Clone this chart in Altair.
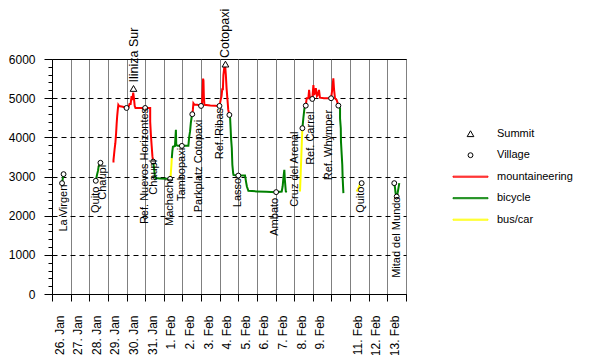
import json
import altair as alt
import pandas as pd

# ---------------- data ----------------
tick_labels = ["26. Jan", "27. Jan", "28. Jan", "29. Jan", "30. Jan", "31. Jan",
               "1. Feb", "2. Feb", "3. Feb", "4. Feb", "5. Feb", "6. Feb", "7. Feb",
               "8. Feb", "9. Feb", "", "11. Feb", "12. Feb", "13. Feb", ""]

kinds = ["Summit", "Village", "mountaineering", "bicycle", "bus/car"]
kind_colors = ["black", "black", "#ff0000", "#008000", "#ffff00"]

# track segments (day since 26 Jan 00:00, elevation m)
seg_modes = ["bicycle", "bicycle", "mountaineering", "bicycle", "bus/car", "bicycle",
             "mountaineering", "bicycle", "bus/car", "bicycle", "mountaineering",
             "bicycle", "bus/car", "bicycle"]
seg_days = [
    [0.54, 0.58, 0.62],
    [2.35, 2.38, 2.42, 2.47, 2.50, 2.55, 2.60],
    [3.30, 3.30, 3.33, 3.36, 3.40, 3.44, 3.47, 3.50, 3.53, 3.56, 3.60, 3.80, 4.00, 4.10,
     4.16, 4.22, 4.27, 4.31, 4.36, 4.40, 4.44, 4.48, 4.75, 5.00, 5.27, 5.27, 5.31, 5.35,
     5.39, 5.43],
    [5.43, 5.48, 5.52, 5.56, 5.80, 6.10, 6.34],
    [6.36, 6.38, 6.41, 6.43],
    [6.43, 6.46, 6.49, 6.60, 6.62, 6.65, 6.67, 6.75, 6.97, 7.20, 7.32, 7.36, 7.41, 7.45,
     7.49, 7.53],
    [7.53, 7.56, 7.59, 7.65, 7.80, 8.00, 8.05, 8.08, 8.11, 8.13, 8.15, 8.18, 8.50, 8.99,
     9.05, 9.10, 9.14, 9.17, 9.20, 9.25, 9.29, 9.33, 9.37, 9.42, 9.46, 9.52],
    [9.52, 9.56, 9.59, 9.61, 9.65, 9.68, 9.72, 9.74, 9.90, 10.00, 10.36, 10.42, 10.46,
     10.54, 11.00, 11.50, 12.03, 12.33, 12.38, 12.42, 12.47, 12.50, 12.55, 12.60],
    [13.31, 13.35, 13.38, 13.41, 13.44],
    [13.44, 13.49, 13.55, 13.62],
    [13.62, 13.67, 13.76, 13.80, 13.84, 13.97, 14.03, 14.07, 14.12, 14.16, 14.22, 14.28,
     14.33, 14.38, 14.60, 14.98, 15.05, 15.10, 15.14, 15.19, 15.28, 15.37],
    [15.37, 15.46, 15.46, 15.50, 15.51, 15.55, 15.58, 15.60, 15.64],
    [16.35, 16.45, 16.53, 16.62],
    [18.37, 18.41, 18.44, 18.50, 18.55, 18.58, 18.64],
]
seg_elev = [
    [2830, 2950, 3060],
    [2890, 2960, 3050, 3150, 3250, 3300, 3350],
    [3356, 3420, 3560, 3700, 3850, 4100, 4350, 4550, 4700, 4830, 4800, 4780, 4750, 4760,
     4850, 4850, 5050, 4950, 5140, 4990, 4800, 4750, 4750, 4750, 4750, 4400, 4050, 3780,
     3520, 3380],
    [3380, 3200, 3020, 2960, 2950, 2945, 2940],
    [2950, 3100, 3300, 3470],
    [3470, 3650, 3760, 3780, 3950, 4190, 3800, 3785, 3782, 3782, 3782, 4000, 4150, 4360,
     4500, 4590],
    [4590, 4700, 4870, 4830, 4830, 4802, 4830, 5150, 5500, 5450, 5050, 4830, 4810, 4802,
     4950, 5050, 5250, 5200, 5590, 5800, 5850, 5600, 5250, 4950, 4700, 4572],
    [4572, 4490, 4200, 3980, 3720, 3300, 3100, 3040, 3024, 3024, 3024, 2850, 2744, 2634,
     2620, 2610, 2601, 2616, 2750, 2958, 3170, 2900, 2616, 2601],
    [2616, 3100, 3500, 3900, 4233],
    [4233, 4488, 4743, 4809],
    [4809, 4998, 5000, 5210, 5030, 4980, 5337, 5080, 5150, 5253, 5057, 5100, 5210, 5013,
     5000, 4998, 5253, 5508, 5210, 4998, 4955, 4809],
    [4809, 4743, 4488, 4233, 3891, 3552, 3297, 2958, 2575],
    [2616, 2700, 2813, 2830],
    [2830, 2710, 2575, 2489, 2580, 2660, 2830],
]

village_days = [0.54, 0.62, 2.35, 2.60, 4.00, 5.00, 5.43, 6.34, 6.97, 7.53, 8.00, 8.99,
                9.52, 10.00, 12.03, 13.44, 13.62, 13.97, 14.98, 15.37, 16.62, 18.37, 18.50]
village_elev = [2830, 3060, 2890, 3350, 4750, 4750, 3380, 2940, 3782, 4590, 4802, 4802,
                4572, 3024, 2601, 4233, 4809, 4980, 4998, 4809, 2830, 2830, 2489]

summit_names = ["Iliniza Sur", "Cotopaxi"]
summit_days = [4.375, 9.31]
summit_elev = [5248, 5870]

label_names = ["La Virgen", "Quito", "Chaupi", "Ref. Nuevos Horizontes", "Chaupi",
               "Machachi", "Tambopaxi", "Parkplatz Cotopaxi", "Ref. Ribas", "Lasso",
               "Ambato", "Cruz del Arenal", "Ref. Carrel", "Ref. Whymper", "Quito",
               "Mitad del Mundo"]
label_days = [0.62, 2.35, 2.75, 5.00, 5.45, 6.31, 6.99, 7.87, 9.04, 10.00, 11.97, 13.05,
              13.88, 14.88, 16.57, 18.50]
label_elev = [2790, 2740, 3297, 4751, 3425, 2940, 3731, 4445, 4751, 2966, 2456, 4146,
              4656, 4700, 2744, 2489]

# ---------------- tables ----------------
rows = []
for s, (mode, ds, es) in enumerate(zip(seg_modes, seg_days, seg_elev)):
    for i, (d, e) in enumerate(zip(ds, es)):
        rows.append({"seg": s, "i": i, "day": d, "elev": e, "kind": mode})
lines_df = pd.DataFrame(rows)

points_df = pd.DataFrame(
    [{"day": d, "elev": e, "kind": "Village"} for d, e in zip(village_days, village_elev)]
    + [{"day": d, "elev": e, "kind": "Summit"} for d, e in zip(summit_days, summit_elev)]
)
labels_df = pd.DataFrame({"day": label_days, "elev": label_elev, "name": label_names})
summits_df = pd.DataFrame({"day": summit_days, "elev": summit_elev, "name": summit_names})

# ---------------- encodings ----------------
FONT = "Liberation Sans"
line_path = "M-3.5,-0.1H3.5V0.1H-3.5Z"
kind_shapes = ["triangle-up", "circle", line_path, line_path, line_path]
kind_sizes = [45, 24, 100, 100, 100]

label_expr = "[" + ",".join(json.dumps(t) for t in tick_labels) + "][datum.value]"
x_enc = alt.X("day:Q", scale=alt.Scale(domain=[0, 19], nice=False, zero=False),
              axis=alt.Axis(values=list(range(20)), labelExpr=label_expr, labelAngle=-90,
                            labelOffset=7, labelPadding=14, tickSize=7, grid=True,
                            gridColor="#808080", gridWidth=1, title=None,
                            labelFontSize=12, labelFlush=False, labelOverlap=False,
                            labelBound=False))
thousand = "datum.value % 1000 === 0"
y_enc = alt.Y("elev:Q", scale=alt.Scale(domain=[0, 6000], nice=False),
              axis=alt.Axis(values=list(range(0, 6001, 200)),
                            labelExpr=thousand + " ? '' + datum.value : ''",
                            tickSize={"condition": {"test": thousand, "value": 8}, "value": 4},
                            gridOpacity={"condition": {"test": thousand, "value": 1}, "value": 0},
                            grid=True, gridDash=[5, 4], gridColor="black", title=None,
                            labelFontSize=12, labelPadding=9, labelOverlap=False,
                            labelFlush=False))

leg = alt.Legend(title=None, labelFont=FONT, labelFontSize=11, labelColor="black",
                 symbolStrokeWidth=1)
color_enc = alt.Color("kind:N", scale=alt.Scale(domain=kinds, range=kind_colors), legend=leg)
shape_enc = alt.Shape("kind:N", scale=alt.Scale(domain=kinds, range=kind_shapes), legend=leg)
size_enc = alt.Size("kind:N", scale=alt.Scale(type="ordinal", domain=kinds, range=kind_sizes),
                    legend=leg)

lines = alt.Chart(lines_df).mark_line(strokeWidth=2).encode(
    x=x_enc, y=y_enc, color=color_enc, detail="seg:N", order="i:Q")
points = alt.Chart(points_df).mark_point(fill="white", strokeWidth=1, opacity=1).encode(
    x=x_enc, y=y_enc, color=color_enc, shape=shape_enc, size=size_enc)
labels = alt.Chart(labels_df).mark_text(angle=270, align="right", baseline="middle",
                                        font=FONT, fontSize=11, color="black").encode(
    x=x_enc, y=y_enc, text="name:N")
summit_labels = alt.Chart(summits_df).mark_text(angle=270, align="left", baseline="middle",
                                                dx=6, font=FONT, fontSize=12.5,
                                                color="black").encode(
    x=x_enc, y=y_enc, text="name:N")

chart = alt.layer(lines, points, labels, summit_labels).properties(
    width=354, height=235,
    padding={"left": 44, "top": 51, "right": 182, "bottom": 61},
    autosize=alt.AutoSizeParams(type="none"),
).configure_view(stroke="black", strokeWidth=1).configure_axis(
    domainColor="black", tickColor="black", labelColor="black", labelFont=FONT,
    domainWidth=1, tickWidth=1,
).configure_legend(orient="none", legendX=413, legendY=69.2, rowPadding=9.5,
                   labelOffset=21, padding=0)

chart.save("out.html", embed_options={"renderer": "svg", "actions": False})
